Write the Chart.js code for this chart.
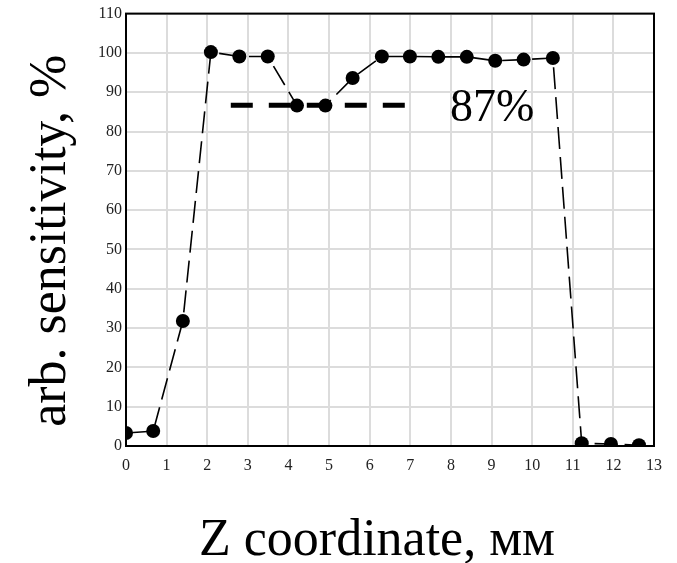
<!DOCTYPE html>
<html>
<head>
<meta charset="utf-8">
<script src="https://cdn.jsdelivr.net/npm/chart.js@4"></script>
<style>
  html, body { margin: 0; padding: 0; background: #fff; }
</style>
</head>
<body>
<canvas id="chart" width="677" height="563"></canvas>
<script>
// measured points (Z in mm, sensitivity in %)
var zCoord = [0, 0.67, 1.4, 2.09, 2.79, 3.49, 4.21, 4.91, 5.58, 6.3, 6.99, 7.69, 8.39, 9.09, 9.79, 10.51, 11.22, 11.94, 12.63];
var sensitivity = [3.3, 3.8, 31.8, 100.2, 99.1, 99.1, 86.6, 86.6, 93.6, 99.1, 99.1, 99.0, 99.0, 98.0, 98.3, 98.7, 0.7, 0.5, 0.2];

// 87% reference level
var levelX = [2.58, 6.87];
var levelY = [86.7, 86.7];
var levelText = '87%';
var levelTextAt = [7.98, 82.6];

var xTitle = 'Z coordinate, мм';
var yTitle = 'arb. sensitivity, %';

function toPoints(xs, ys) {
  return xs.map(function(x, i) { return { x: x, y: ys[i] }; });
}

// frame around the plot, the level label and the axis titles
var decorPlugin = {
  id: 'decor',
  afterDatasetsDraw: function(chart) {
    var ctx = chart.ctx;
    var a = chart.chartArea;
    var xs = chart.scales.x, ys = chart.scales.y;
    ctx.save();
    ctx.strokeStyle = '#000';
    ctx.lineWidth = 2;
    ctx.strokeRect(a.left, a.top, a.right - a.left, a.bottom - a.top);

    ctx.fillStyle = '#000';
    ctx.font = '46px "Liberation Serif", "Times New Roman", serif';
    ctx.textBaseline = 'alphabetic';
    ctx.textAlign = 'left';
    ctx.fillText(levelText, xs.getPixelForValue(levelTextAt[0]), ys.getPixelForValue(levelTextAt[1]));

    ctx.font = '52px "Liberation Serif", "Times New Roman", serif';
    ctx.textAlign = 'center';
    ctx.fillText(xTitle, (a.left + a.right) / 2 - 13, 555);

    ctx.translate(65, (a.top + a.bottom) / 2 + 11);
    ctx.rotate(-Math.PI / 2);
    ctx.fillText(yTitle, 0, 0);
    ctx.restore();
  }
};

var ctx = document.getElementById('chart').getContext('2d');
new Chart(ctx, {
  type: 'scatter',
  data: {
    datasets: [{
      data: toPoints(zCoord, sensitivity),
      showLine: true,
      borderColor: '#000',
      borderWidth: 1.6,
      borderDash: [22, 8],
      pointRadius: 7,
      pointBackgroundColor: '#000',
      pointBorderWidth: 0
    }, {
      data: toPoints(levelX, levelY),
      showLine: true,
      borderColor: '#000',
      borderWidth: 5,
      borderDash: [22, 16],
      borderCapStyle: 'butt',
      pointRadius: 0
    }]
  },
  options: {
    responsive: false,
    animation: false,
    layout: { padding: { top: 12, right: 23, left: 0, bottom: 0 } },
    plugins: {
      legend: { display: false },
      tooltip: { enabled: false }
    },
    scales: {
      x: {
        type: 'linear',
        min: 0,
        max: 13,
        grid: { color: '#dcdcdc', lineWidth: 2, drawTicks: false },
        border: { display: false },
        ticks: {
          stepSize: 1,
          padding: 10,
          maxRotation: 0,
          color: '#222',
          font: { family: '"Liberation Serif", "Times New Roman", serif', size: 16 }
        },
        afterFit: function(scale) { scale.height = 117; }
      },
      y: {
        min: 0,
        max: 110,
        grid: { color: '#dcdcdc', lineWidth: 2, drawTicks: false },
        border: { display: false },
        ticks: {
          stepSize: 10,
          padding: 4,
          color: '#222',
          font: { family: '"Liberation Serif", "Times New Roman", serif', size: 16 }
        },
        afterFit: function(scale) { scale.width = 126; }
      }
    }
  },
  plugins: [decorPlugin]
});
</script>
</body>
</html>
